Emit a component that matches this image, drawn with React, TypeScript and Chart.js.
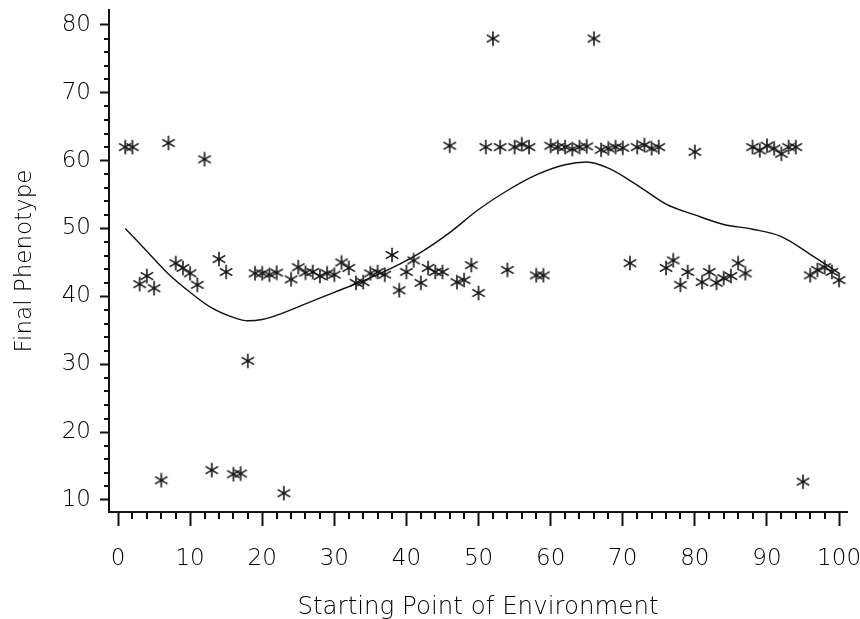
import React, { useEffect, useRef } from 'react';
import { Chart, registerables } from 'chart.js';

Chart.register(...registerables);

// ---- data ----
const startingPoints = [
  1, 2, 3, 4, 5, 6, 7, 8, 9, 10,
  11, 12, 13, 14, 15, 16, 17, 18, 19, 20,
  21, 22, 23, 24, 25, 26, 27, 28, 29, 30,
  31, 32, 33, 34, 35, 36, 37, 38, 39, 40,
  41, 42, 43, 44, 45, 46, 47, 48, 49, 50,
  51, 52, 53, 54, 55, 56, 57, 58, 59, 60,
  61, 62, 63, 64, 65, 66, 67, 68, 69, 70,
  71, 72, 73, 74, 75, 76, 77, 78, 79, 80,
  81, 82, 83, 84, 85, 86, 87, 88, 89, 90,
  91, 92, 93, 94, 95, 96, 97, 98, 99, 100,
];

const finalPhenotype = [
  62, 62, 41.8, 43, 41.2, 12.9, 62.6, 44.9, 44.2, 43.4,
  41.7, 60.2, 14.4, 45.5, 43.6, 13.8, 13.9, 30.5, 43.4, 43.4,
  43.2, 43.5, 11, 42.5, 44.3, 43.5, 43.6, 43, 43.4, 43.2,
  45, 44.2, 42, 42.1, 43.4, 43.6, 43.2, 46.1, 40.9, 43.6,
  45.3, 42, 44.2, 43.6, 43.6, 62.2, 42.1, 42.4, 44.6, 40.5,
  62, 78, 62, 43.9, 62, 62.4, 62, 43.1, 43.1, 62.2,
  62, 62, 61.7, 62, 62.1, 78, 61.6, 61.8, 62, 61.9,
  44.9, 62, 62.3, 61.8, 62, 44.2, 45.3, 41.7, 43.6, 61.3,
  42.1, 43.6, 42, 42.7, 43, 44.9, 43.4, 62, 61.5, 62.2,
  61.8, 61, 62, 62, 12.7, 43.1, 43.9, 44.3, 43.6, 42.4,
];

const smoothX = [1, 3, 5, 7, 10, 13, 16, 18, 20, 23, 26, 30, 34, 38, 42, 46, 50, 54, 58, 62, 65, 68, 72, 76, 80, 84, 88, 92, 96, 100];
const smoothY = [50, 47.8, 45.5, 43.3, 40.6, 38.3, 36.9, 36.4, 36.6, 37.6, 38.9, 40.6, 42.3, 44.2, 46.5, 49.4, 52.8, 55.6, 57.9, 59.4, 59.8, 58.9, 56.4, 53.6, 52, 50.6, 49.9, 48.8, 46.2, 43.4];

const xTickValues = [0, 10, 20, 30, 40, 50, 60, 70, 80, 90, 100];
const yTickValues = [10, 20, 30, 40, 50, 60, 70, 80];
const xMinorTicks = [
  0, 2, 4, 6, 8, 10, 12, 14, 16, 18, 20, 22, 24, 26, 28, 30, 32, 34, 36, 38, 40,
  42, 44, 46, 48, 50, 52, 54, 56, 58, 60, 62, 64, 66, 68, 70, 72, 74, 76, 78, 80,
  82, 84, 86, 88, 90, 92, 94, 96, 98, 100,
];
const yMinorTicks = [
  10, 12, 14, 16, 18, 20, 22, 24, 26, 28, 30, 32, 34, 36, 38, 40,
  42, 44, 46, 48, 50, 52, 54, 56, 58, 60, 62, 64, 66, 68, 70, 72, 74, 76, 78, 80,
];

const xTitle = 'Starting Point of Environment';
const yTitle = 'Final Phenotype';

const INK = '#111';
const TEXT = '#000';
const FONT = "'DejaVu Sans', sans-serif";
const WEIGHT = '200';

function makeAsterisk(): HTMLCanvasElement {
  const c = document.createElement('canvas');
  const s = 16;
  c.width = s;
  c.height = s;
  const g = c.getContext('2d')!;
  const cx = s / 2;
  const cy = s / 2;
  const r = 7.2;
  g.strokeStyle = '#151515';
  g.lineWidth = 1.6;
  g.lineCap = 'butt';
  const angles = [90, 30, -30];
  angles.forEach((a) => {
    const rad = (a * Math.PI) / 180;
    const dx = Math.cos(rad) * r;
    const dy = Math.sin(rad) * r;
    g.beginPath();
    g.moveTo(cx - dx, cy - dy);
    g.lineTo(cx + dx, cy + dy);
    g.stroke();
  });
  return c;
}

const minorTickPlugin = {
  id: 'minorTicks',
  afterDraw(chart: any) {
    const { ctx, chartArea } = chart;
    const xs = chart.scales.x;
    const ys = chart.scales.y;
    ctx.save();
    ctx.strokeStyle = INK;
    ctx.lineWidth = 2;
    xMinorTicks.forEach((v) => {
      if (xTickValues.includes(v)) return;
      const px = Math.round(xs.getPixelForValue(v));
      ctx.beginPath();
      ctx.moveTo(px, chartArea.bottom);
      ctx.lineTo(px, chartArea.bottom + 7);
      ctx.stroke();
    });
    yMinorTicks.forEach((v) => {
      if (yTickValues.includes(v)) return;
      const py = Math.round(ys.getPixelForValue(v));
      ctx.beginPath();
      ctx.moveTo(chartArea.left, py);
      ctx.lineTo(chartArea.left - 5, py);
      ctx.stroke();
    });
    ctx.restore();
  },
};

export default function App() {
  const ref = useRef<HTMLCanvasElement | null>(null);

  useEffect(() => {
    if (!ref.current) return;
    const star = makeAsterisk();
    const points = startingPoints.map((x, i) => ({ x, y: finalPhenotype[i] }));
    const curve = smoothX.map((x, i) => ({ x, y: smoothY[i] }));

    const chart = new Chart(ref.current, {
      type: 'scatter',
      data: {
        datasets: [
          {
            data: curve,
            showLine: true,
            borderColor: INK,
            borderWidth: 1.4,
            pointRadius: 0,
            tension: 0.4,
            cubicInterpolationMode: 'monotone',
            fill: false,
          } as any,
          {
            data: points,
            pointStyle: star as any,
            pointRadius: 7,
            borderColor: INK,
            backgroundColor: INK,
          },
        ],
      },
      plugins: [minorTickPlugin],
      options: {
        animation: false,
        responsive: false,
        devicePixelRatio: 1,
        layout: { padding: { top: 10, right: 13, left: 0, bottom: 0 } },
        plugins: {
          legend: { display: false },
          tooltip: { enabled: false },
        },
        scales: {
          x: {
            type: 'linear',
            min: -1.25,
            max: 101.1,
            afterBuildTicks: (s: any) => {
              s.ticks = xTickValues.map((v) => ({ value: v }));
            },
            afterFit: (s: any) => {
              s.height = 107;
              s.paddingLeft = 0;
              s.paddingRight = 0;
            },
            grid: {
              drawOnChartArea: false,
              drawTicks: true,
              tickLength: 14,
              tickWidth: 2,
              tickColor: INK,
            },
            border: { display: true, color: INK, width: 2 },
            ticks: {
              color: TEXT,
              font: { family: FONT, size: 23, weight: WEIGHT },
              padding: 19,
              maxRotation: 0,
              autoSkip: false,
            },
            title: {
              display: true,
              text: xTitle,
              color: TEXT,
              font: { family: FONT, size: 24.5, weight: WEIGHT },
              padding: { top: 0, bottom: -3 },
            },
          },
          y: {
            type: 'linear',
            min: 8.23,
            max: 82.2,
            afterBuildTicks: (s: any) => {
              s.ticks = yTickValues.map((v) => ({ value: v }));
            },
            afterFit: (s: any) => {
              s.width = 109;
              s.paddingTop = 0;
              s.paddingBottom = 0;
            },
            grid: {
              drawOnChartArea: false,
              drawTicks: true,
              tickLength: 9,
              tickWidth: 2,
              tickColor: INK,
            },
            border: { display: true, color: INK, width: 2 },
            ticks: {
              color: TEXT,
              font: { family: FONT, size: 23, weight: WEIGHT },
              padding: 9,
              autoSkip: false,
            },
            title: {
              display: true,
              text: yTitle,
              color: TEXT,
              font: { family: FONT, size: 23, weight: WEIGHT },
              padding: { top: 11, bottom: 0 },
            },
          },
        },
      },
    });
    return () => chart.destroy();
  }, []);

  return (
    <div style={{ position: 'absolute', left: 0, top: 0, width: 860, height: 619, background: '#fff' }}>
      <canvas ref={ref} width={860} height={619} style={{ display: 'block' }} />
    </div>
  );
}
